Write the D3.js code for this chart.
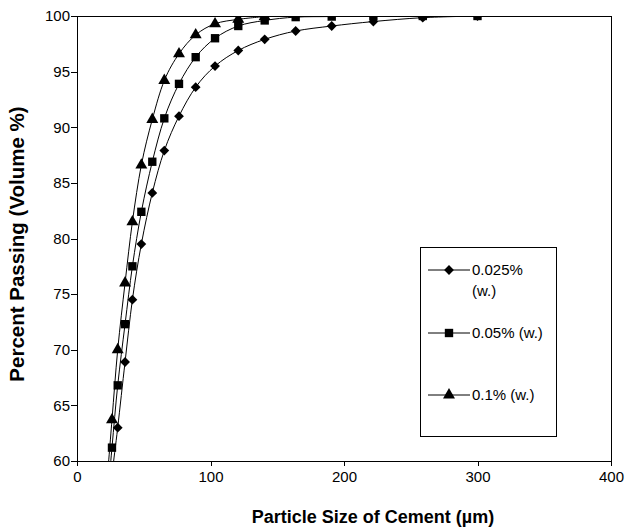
<!DOCTYPE html>
<html>
<head>
<meta charset="utf-8">
<script src="https://cdn.jsdelivr.net/npm/d3@7"></script>
<style>
body { margin: 0; background: #fff; }
svg { display: block; font-family: "Liberation Sans", Arial, sans-serif; }
.axis path, .axis line { fill: none; stroke: #000; shape-rendering: crispEdges; }
.axis text { font-size: 15px; fill: #000; }
.title { font-size: 18px; font-weight: bold; }
.legend text { font-size: 15px; }
</style>
</head>
<body>
<div id="chart"></div>
<script>

// particle sizes (µm) and percent passing for each series
var sizes = [22.4, 26.2, 30.5, 36.0, 41.5, 48.2, 56.4, 65.4, 76.4, 88.9, 103.4, 120.8, 140.6, 163.8, 190.8, 222, 259, 300];
var pass025 = [52.0, 58.5, 63.0, 68.9, 74.5, 79.5, 84.1, 87.9, 91.0, 93.6, 95.5, 96.9, 97.9, 98.65, 99.1, 99.5, 99.85, 100];
var pass05  = [56.0, 61.2, 66.8, 72.3, 77.5, 82.4, 86.9, 90.8, 93.9, 96.3, 98.0, 99.1, 99.6, 99.9, 99.95, 100, 100, 100];
var pass1   = [58.0, 63.7, 70.0, 76.0, 81.5, 86.6, 90.7, 94.2, 96.6, 98.3, 99.3, 99.7, 99.95];
var seriesNames = ["0.025% (w.)", "0.05% (w.)", "0.1% (w.)"];
var xTicks = [0, 100, 200, 300, 400];
var yTicks = [60, 65, 70, 75, 80, 85, 90, 95, 100];

var margin = {top: 16, right: 17, bottom: 68, left: 77},
    width = 628 - margin.left - margin.right,
    height = 529 - margin.top - margin.bottom;

var x = d3.scaleLinear().domain([0, 400]).range([0, width]);
var y = d3.scaleLinear().domain([60, 100]).range([height, 0]);

var svg = d3.select("#chart").append("svg")
    .attr("width", 628)
    .attr("height", 529)
  .append("g")
    .attr("transform", "translate(" + margin.left + "," + margin.top + ")");

svg.append("defs").append("clipPath").attr("id", "clip")
  .append("rect").attr("width", width).attr("height", height);

// frame
svg.append("rect")
    .attr("width", width).attr("height", height)
    .attr("fill", "none").attr("stroke", "#000")
    .attr("shape-rendering", "crispEdges");

svg.append("g")
    .attr("class", "axis")
    .attr("transform", "translate(0," + height + ")")
    .call(d3.axisBottom(x).tickValues(xTicks).tickSize(5).tickSizeOuter(0).tickPadding(5));

svg.append("g")
    .attr("class", "axis")
    .call(d3.axisLeft(y).tickValues(yTicks).tickSize(6).tickSizeOuter(0).tickPadding(1));

svg.append("text")
    .attr("class", "title")
    .attr("x", 296)
    .attr("y", height + 62)
    .attr("text-anchor", "middle")
    .text("Particle Size of Cement (µm)");

svg.append("text")
    .attr("class", "title")
    .attr("transform", "rotate(-90)")
    .attr("x", -(244 - margin.top))
    .attr("y", -53)
    .attr("text-anchor", "middle")
    .style("font-size", "20.5px")
    .text("Percent Passing (Volume %)");

var symDiamond = d3.symbol().type(d3.symbolSquare).size(48);
var symSquare = d3.symbol().type(d3.symbolSquare).size(70);
var symTriangle = d3.symbol().type(d3.symbolTriangle).size(62);

var series = [
  {values: pass025, sym: symDiamond, rot: 45},
  {values: pass05, sym: symSquare, rot: 0},
  {values: pass1, sym: symTriangle, rot: 0}
];

var line = d3.line()
    .x(function(d) { return x(d[0]); })
    .y(function(d) { return y(d[1]); })
    .curve(d3.curveCatmullRom.alpha(0));

var plot = svg.append("g").attr("clip-path", "url(#clip)");

series.forEach(function(s) {
  var pts = s.values.map(function(v, i) { return [sizes[i], v]; });
  plot.append("path")
      .datum(pts)
      .attr("fill", "none")
      .attr("stroke", "#000")
      .attr("stroke-width", 1)
      .attr("d", line);
  plot.selectAll(null)
    .data(pts)
    .enter().append("path")
      .attr("d", s.sym)
      .attr("fill", "#000")
      .attr("transform", function(d) {
        return "translate(" + x(d[0]) + "," + y(d[1]) + ") rotate(" + s.rot + ")";
      });
});

// legend
var lg = svg.append("g").attr("class", "legend")
    .attr("transform", "translate(" + (420 - margin.left) + "," + (247 - margin.top) + ")");

lg.append("rect")
    .attr("width", 136).attr("height", 189)
    .attr("fill", "#fff").attr("stroke", "#000")
    .attr("shape-rendering", "crispEdges");

var rowsY = [23, 86, 148];
series.forEach(function(s, i) {
  var row = lg.append("g").attr("transform", "translate(0," + rowsY[i] + ")");
  row.append("line")
      .attr("x1", 8).attr("x2", 50)
      .attr("stroke", "#000");
  row.append("path")
      .attr("d", s.sym)
      .attr("fill", "#000")
      .attr("transform", "translate(29,0) rotate(" + s.rot + ")");
  var t = row.append("text").attr("x", 52).attr("y", 5);
  if (i === 0) {
    t.append("tspan").attr("x", 52).text("0.025%");
    t.append("tspan").attr("x", 52).attr("dy", 21).text("(w.)");
  } else {
    t.text(seriesNames[i]);
  }
});

</script>
</body>
</html>
